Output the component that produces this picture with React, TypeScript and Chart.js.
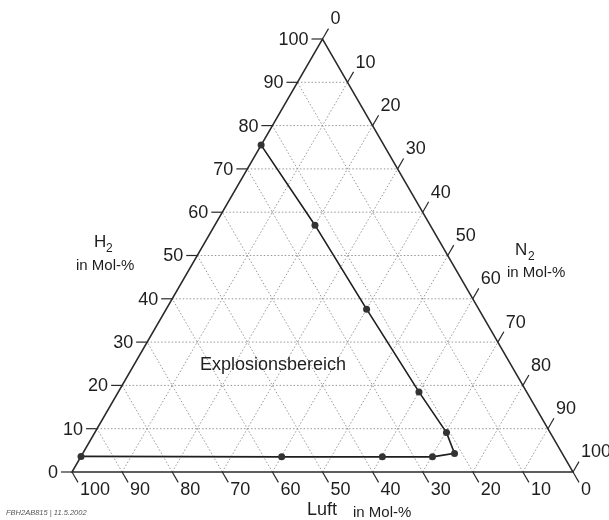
import React, { useEffect, useRef } from 'react';
import { Chart, registerables } from 'chart.js';

Chart.register(...registerables);

// Tick values along each ternary axis (mol-%)
const tickValues = [0, 10, 20, 30, 40, 50, 60, 70, 80, 90, 100];
const gridValues = [10, 20, 30, 40, 50, 60, 70, 80, 90];

// Explosion-limit curve (H2 / N2 in mol-%, air = rest)
const curveH2 = [75.5, 57, 37.6, 18.5, 9.1, 4.3, 3.5, 3.5, 3.5, 3.6];
const curveN2 = [0, 20, 40, 60, 70.2, 74.2, 70.2, 60.2, 40.1, 0];
const curveLuft = curveH2.map((h, i) => 100 - h - curveN2[i]);

const FONT = '"Liberation Sans", Arial, Helvetica, sans-serif';

// ternary -> scale values (x: N2 + H2/2, y: H2)
const tern = (h: number, n: number) => ({ x: n + h / 2, y: h });

const ternaryPlugin = {
  id: 'ternary',
  beforeDatasetsDraw(chart: any) {
    const { ctx } = chart;
    const sx = chart.scales.x;
    const sy = chart.scales.y;
    const P = (h: number, n: number) => {
      const t = tern(h, n);
      return { x: sx.getPixelForValue(t.x), y: sy.getPixelForValue(t.y) };
    };
    ctx.save();
    // dotted grid
    ctx.strokeStyle = '#8c8c8c';
    ctx.lineWidth = 0.9;
    ctx.setLineDash([1.5, 2]);
    const seg = (a: any, b: any) => {
      ctx.beginPath();
      ctx.moveTo(a.x, a.y);
      ctx.lineTo(b.x, b.y);
      ctx.stroke();
    };
    gridValues.forEach((k) => {
      seg(P(k, 0), P(k, 100 - k)); // constant H2
      seg(P(0, k), P(100 - k, k)); // constant N2
      seg(P(0, 100 - k), P(100 - k, 0)); // constant Luft
    });
    ctx.setLineDash([]);

    // triangle edges
    ctx.strokeStyle = '#2a2a2a';
    ctx.lineWidth = 1.5;
    const a = P(0, 0), b = P(100, 0), c = P(0, 100);
    ctx.beginPath();
    ctx.moveTo(a.x, a.y);
    ctx.lineTo(b.x, b.y);
    ctx.lineTo(c.x, c.y);
    ctx.closePath();
    ctx.stroke();

    // ticks + labels
    ctx.lineWidth = 1.2;
    ctx.fillStyle = '#1e1e1e';
    ctx.font = `18px ${FONT}`;
    ctx.textBaseline = 'middle';
    tickValues.forEach((v) => {
      // H2 on left edge
      const pl = P(v, 0);
      seg(pl, { x: pl.x - 11, y: pl.y });
      ctx.textAlign = 'right';
      ctx.fillText(String(v), pl.x - 14, pl.y + 1);
      // N2 on right edge
      const pr = P(100 - v, v);
      seg(pr, { x: pr.x + 6, y: pr.y - 10.4 });
      ctx.textAlign = 'left';
      ctx.fillText(String(v), pr.x + 8, pr.y - 19.5);
      // Luft on bottom edge
      const pb = P(0, 100 - v);
      seg(pb, { x: pb.x + 6, y: pb.y + 10.4 });
      ctx.fillText(String(v), pb.x + 8, pb.y + 18);
    });

    // axis titles
    const ca = chart.chartArea;
    ctx.textAlign = 'left';
    ctx.font = `17px ${FONT}`;
    ctx.fillText('H', ca.left + 22, 242);
    ctx.font = `12px ${FONT}`;
    ctx.fillText('2', ca.left + 34, 249);
    ctx.font = `15px ${FONT}`;
    ctx.fillText('in Mol-%', ca.left + 4, 266);

    ctx.font = `17px ${FONT}`;
    ctx.fillText('N', 515, 250);
    ctx.font = `12px ${FONT}`;
    ctx.fillText('2', 528, 257);
    ctx.font = `15px ${FONT}`;
    ctx.fillText('in Mol-%', 507, 273);

    ctx.font = `18px ${FONT}`;
    ctx.fillText('Luft', 307, 510);
    ctx.font = `15px ${FONT}`;
    ctx.fillText('in Mol-%', 353, 513);

    ctx.font = `18px ${FONT}`;
    ctx.fillText('Explosionsbereich', 200, 365);

    ctx.font = `italic 7.5px ${FONT}`;
    ctx.fillStyle = '#555';
    ctx.fillText('FBH2AB815 | 11.5.2002', 6, 513);
    ctx.restore();
  },
};

export default function App() {
  const ref = useRef<HTMLCanvasElement>(null);
  useEffect(() => {
    if (!ref.current) return;
    const data = curveH2.map((h, i) => ({ ...tern(h, curveN2[i]), luft: curveLuft[i] }));
    const chart = new Chart(ref.current, {
      type: 'scatter',
      data: {
        datasets: [
          {
            label: 'Explosionsgrenze',
            data,
            showLine: true,
            borderColor: '#1e1e1e',
            borderWidth: 1.6,
            pointRadius: 3.5,
            pointBackgroundColor: '#333',
            pointBorderWidth: 0,
            tension: 0,
            clip: false as any,
          },
        ],
      },
      options: {
        responsive: false,
        animation: false,
        devicePixelRatio: 1,
        layout: { padding: { left: 72, right: 36, top: 39, bottom: 48 } },
        scales: {
          x: { type: 'linear', min: 0, max: 100, display: false },
          y: { type: 'linear', min: 0, max: 100, display: false },
        },
        plugins: { legend: { display: false }, tooltip: { enabled: false } },
      },
      plugins: [ternaryPlugin],
    });
    return () => chart.destroy();
  }, []);
  return (
    <div style={{ position: 'absolute', left: 0, top: 0, width: 609, height: 520, background: '#fff' }}>
      <canvas ref={ref} width={609} height={520} style={{ display: 'block' }} />
    </div>
  );
}
